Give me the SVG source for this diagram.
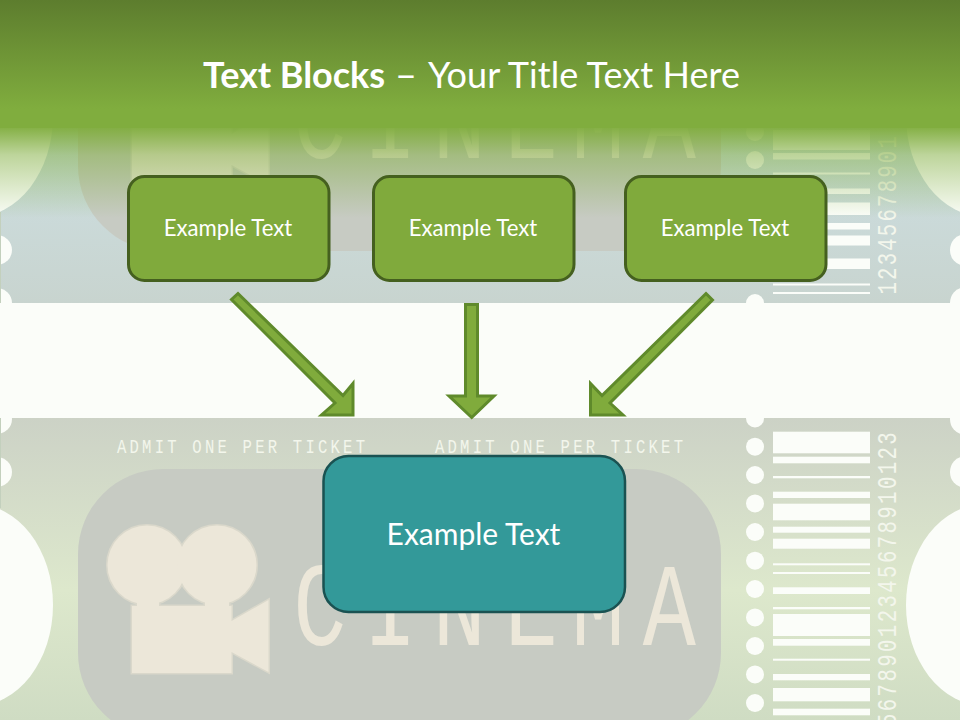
<svg xmlns="http://www.w3.org/2000/svg" xmlns:xlink="http://www.w3.org/1999/xlink" width="960" height="720" viewBox="0 0 960 720">
<style>
.bg{fill:#fbfdf9}
.bar{fill:#fbfdf9}
.mono{font-family:"Liberation Mono","DejaVu Sans Mono",monospace;fill:#f3f6ec}
.cinema{font-family:"Liberation Mono","DejaVu Sans Mono",monospace;font-size:118px;fill:#ece7d9}
.panel{fill:#c7cbc3}
.camline{fill:#dad8cb;stroke:#dad8cb;stroke-width:3}
.cam{fill:#ece7d9}
.node{fill:#80aa3c;stroke:#45601f;stroke-width:3}
.focus{fill:#339999;stroke:#1a5252;stroke-width:2.5}
.label{font-family:Lato,"Open Sans",sans-serif;fill:#fff;text-anchor:middle}
.arrow{fill:#80ab3c;stroke:#5f8a2b;stroke-width:3;stroke-miterlimit:10}
.edge{fill:#c3d0bd}
</style>
<defs>
<linearGradient id="tk1" x1="0" y1="0" x2="0" y2="1">
<stop offset="0" stop-color="#b4cdb0"/><stop offset=".45" stop-color="#cddfe2"/><stop offset="1" stop-color="#c8d4cf"/>
</linearGradient>
<linearGradient id="tk2" x1="0" y1="0" x2="0" y2="1">
<stop offset="0" stop-color="#ccd2c6"/><stop offset=".57" stop-color="#dde8cc"/><stop offset="1" stop-color="#cfdcc3"/>
</linearGradient>
<linearGradient id="head" x1="0" y1="0" x2="0" y2="1">
<stop offset="0" stop-color="#5d7d2e"/><stop offset=".85" stop-color="#80ad3e"/><stop offset="1" stop-color="#80ad3e"/>
</linearGradient>
<linearGradient id="fade" x1="0" y1="0" x2="0" y2="1">
<stop offset="0" stop-color="#80ad3e" stop-opacity=".95"/><stop offset=".3" stop-color="#80ad3e" stop-opacity=".5"/><stop offset="1" stop-color="#80ad3e" stop-opacity="0"/>
</linearGradient>
<g id="shape">
<circle cx="147" cy="565" r="39.500"/>
<circle cx="217" cy="565" r="39.500"/>
<path d="M132 606H137V596H159V606H205V596H229V606H231.500V621L268.500 600V672L231.500 652V673H132Z"/>
</g>
<g id="art">
<rect class="panel" x="78" y="469" width="643" height="269" rx="85" ry="85"/>
<use xlink:href="#shape" class="camline"/>
<use xlink:href="#shape" class="cam"/>
<text class="cinema" transform="translate(0 645) scale(.75 1)" x="391 485 577 673 762 857">CINEMA</text>
</g>
</defs>

<rect class="bg" x="0" y="0" width="960" height="720"/>

<rect x="0" y="0" width="960" height="303" fill="url(#tk1)"/>
<use xlink:href="#art" transform="translate(0 -487)"/>
<ellipse class="bg" cx="-25" cy="116" rx="78" ry="101"/>
<ellipse class="bg" cx="985" cy="116" rx="79" ry="101"/>
<g class="bg">
<ellipse cx="-3" cy="250" rx="15" ry="15"/><ellipse cx="-3" cy="303" rx="15" ry="15"/>
<ellipse cx="963" cy="250" rx="13" ry="15"/><ellipse cx="963" cy="303" rx="13" ry="15"/>
<circle cx="755" cy="132" r="9"/><circle cx="755" cy="160" r="9"/><circle cx="755" cy="303" r="9"/>
</g>
<rect class="edge" x="0" y="212" width="1" height="91"/>
<g class="bar">
<rect x="773" y="130" width="97" height="20"/><rect x="773" y="153" width="97" height="6.500"/>
<rect x="773" y="172.500" width="97" height="2"/><rect x="773" y="188.500" width="97" height="5.500"/>
<rect x="773" y="202.500" width="97" height="12.500"/><rect x="773" y="223" width="97" height="6.500"/>
<rect x="773" y="235.500" width="97" height="10"/><rect x="773" y="258.500" width="97" height="10.500"/>
<rect x="773" y="283.500" width="97" height="2"/><rect x="773" y="292" width="97" height="2"/>
</g>
<text class="mono" font-size="28" transform="translate(896 294.500) rotate(-90) scale(.74 1)" textLength="214" lengthAdjust="spacing">12345678901</text>
<rect x="0" y="128" width="960" height="90" fill="url(#fade)"/>
<rect x="0" y="0" width="960" height="128" fill="url(#head)"/>

<rect x="0" y="418" width="960" height="302" fill="url(#tk2)"/>
<use xlink:href="#art"/>
<ellipse class="bg" cx="-25" cy="605" rx="78" ry="101"/>
<ellipse class="bg" cx="985" cy="605" rx="79" ry="101"/>
<g class="bg">
<ellipse cx="-3" cy="419" rx="15" ry="15"/><ellipse cx="-3" cy="472" rx="15" ry="15"/>
<ellipse cx="963" cy="419" rx="13" ry="15"/><ellipse cx="963" cy="472" rx="13" ry="15"/>
<circle cx="755" cy="418.500" r="9"/><circle cx="755" cy="446.700" r="9"/><circle cx="755" cy="475" r="9"/>
<circle cx="755" cy="503.400" r="9"/><circle cx="755" cy="532" r="9"/><circle cx="755" cy="560.700" r="9"/>
<circle cx="755" cy="589" r="9"/><circle cx="755" cy="617.400" r="9"/><circle cx="755" cy="646" r="9"/>
<circle cx="755" cy="674.400" r="9"/><circle cx="755" cy="703" r="9"/>
</g>
<rect class="edge" x="0" y="418" width="1" height="90"/>
<g class="bar">
<rect x="773" y="431.700" width="97" height="21.600"/><rect x="773" y="456.700" width="97" height="6.600"/>
<rect x="773" y="476" width="97" height="2.300"/><rect x="773" y="491.700" width="97" height="6.300"/>
<rect x="773" y="503.700" width="97" height="16.600"/><rect x="773" y="526.700" width="97" height="6"/>
<rect x="773" y="538.700" width="97" height="10"/><rect x="773" y="563.300" width="97" height="2"/>
<rect x="773" y="572" width="97" height="2"/><rect x="773" y="587.300" width="97" height="6.700"/>
<rect x="773" y="607" width="97" height="2.300"/><rect x="773" y="614" width="97" height="22"/>
<rect x="773" y="639" width="97" height="6.700"/><rect x="773" y="658.700" width="97" height="2"/>
<rect x="773" y="674" width="97" height="6.300"/><rect x="773" y="688" width="97" height="13.300"/>
<rect x="773" y="708.700" width="97" height="6.600"/>
</g>
<text class="mono" font-size="28" transform="translate(896 726) rotate(-90) scale(.74 1)" textLength="397" lengthAdjust="spacing">56789012345678910123</text>
<text class="mono" font-size="20" transform="translate(117 453) scale(.78 1)" textLength="318" lengthAdjust="spacing">ADMIT ONE PER TICKET</text>
<text class="mono" font-size="20" transform="translate(435 453) scale(.78 1)" textLength="318" lengthAdjust="spacing">ADMIT ONE PER TICKET</text>

<text id="title" y="88" font-family="Lato,'Open Sans',sans-serif" font-size="36" fill="#fff"><tspan x="203" font-weight="700" textLength="182">Text Blocks</tspan><tspan x="395" textLength="22" lengthAdjust="spacingAndGlyphs">–</tspan><tspan x="428" textLength="312">Your Title Text Here</tspan></text>

<g id="connectors">
<polygon class="arrow" points="238,293.500 343,395.500 353,383.500 353,415 321.500,415 335,403 231.500,299.500"/>
<polygon class="arrow" points="465.500,304.500 477.500,304.500 477.500,396 494,396 471.700,417.500 449,396 465.500,396"/>
<polygon class="arrow" points="706,293.500 712.500,300 610,403 623,415 590.500,415 590.500,383.500 602,395.500"/>
</g>

<g id="node-1"><rect class="node" x="128.500" y="176.500" width="200.500" height="104" rx="16"/><text class="label" x="228" y="236" font-size="22.200">Example Text</text></g>
<g id="node-2"><rect class="node" x="373.500" y="176.500" width="200.500" height="104" rx="16"/><text class="label" x="473" y="236" font-size="22.200">Example Text</text></g>
<g id="node-3"><rect class="node" x="625.500" y="176.500" width="200.500" height="104" rx="16"/><text class="label" x="725" y="236" font-size="22.200">Example Text</text></g>
<g id="node-4"><rect class="focus" x="323.500" y="456" width="301.500" height="156" rx="25"/><text class="label" x="473.500" y="544.500" font-size="30">Example Text</text></g>
</svg>
